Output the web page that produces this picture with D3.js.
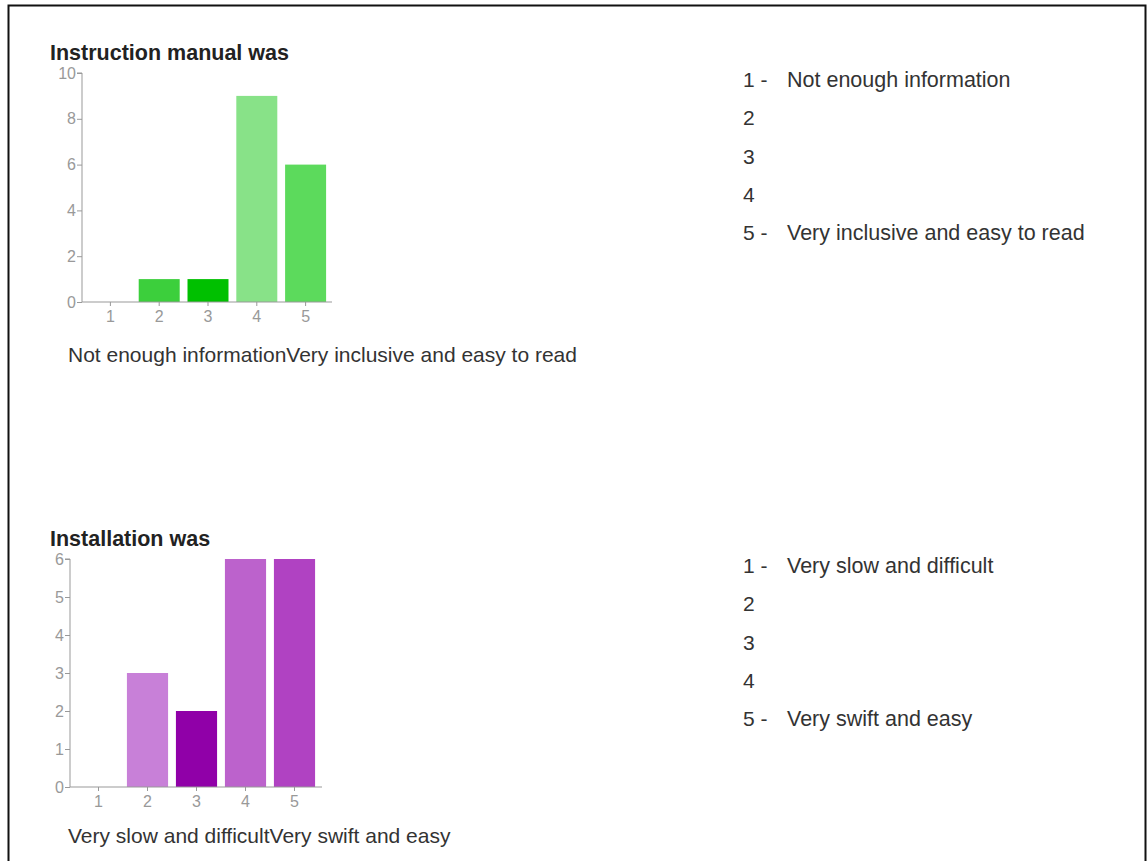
<!DOCTYPE html>
<html>
<head>
<meta charset="utf-8">
<script src="https://d3js.org/d3.v7.min.js"></script>
<style>
body { margin: 0; background: #fff; }
svg { font-family: Arial, "Liberation Sans", sans-serif; }
.axis path, .axis line { stroke: #999; }
</style>
</head>
<body>
<svg id="vis" width="1147" height="861"></svg>
<script>
// chart 1 data
var cats = ["1", "2", "3", "4", "5"]
var manualValues = [0, 1, 1, 9, 6]
var manualColors = ["#3ccf3c", "#3ccf3c", "#00c000", "#88e288", "#5cda5c"]
var manualTicks = [0, 2, 4, 6, 8, 10]
var manualLegend = ["Not enough information", "", "", "", "Very inclusive and easy to read"]
// chart 2 data
var installValues = [0, 3, 2, 6, 6]
var installColors = ["#c880d8", "#c880d8", "#9000a8", "#bc62cc", "#b042c2"]
var installTicks = [0, 1, 2, 3, 4, 5, 6]
var installLegend = ["Very slow and difficult", "", "", "", "Very swift and easy"]

var svg = d3.select("#vis")

// frame
svg.append("path")
    .attr("d", "M8.5,861 L8.5,5.5 L1145.5,5.5 L1145.5,861")
    .style("fill", "none")
    .style("stroke", "#111")
    .style("stroke-width", 2)

function drawChart(opt) {
    var g = svg.append("g")
    g.append("text")
        .attr("x", 50).attr("y", opt.titleY)
        .style("font-weight", "bold").style("font-size", "21.5px").style("fill", "#222")
        .text(opt.title)

    var x = d3.scaleBand().domain(cats).range([opt.x0, opt.x1]).paddingInner(0.16).paddingOuter(0.08)
    var y = d3.scaleLinear().domain([0, opt.max]).range([opt.y0, opt.y1])

    g.selectAll("rect").data(opt.values).enter().append("rect")
        .attr("x", (d, i) => x(cats[i]))
        .attr("y", d => y(d))
        .attr("width", x.bandwidth())
        .attr("height", d => y(0) - y(d))
        .style("fill", (d, i) => opt.colors[i])

    var ya = g.append("g").attr("class", "axis")
        .attr("transform", "translate(" + opt.axisX + ",0)")
        .call(d3.axisLeft(y).tickValues(opt.ticks).tickFormat(d3.format("d")).tickSize(5).tickPadding(1))
    ya.select(".domain").attr("d", "M-5," + y(opt.max) + "H0V" + y(0))

    var xa = g.append("g").attr("class", "axis")
        .attr("transform", "translate(0," + y(0) + ")")
        .call(d3.axisBottom(x).tickSize(4).tickPadding(5))
    xa.select(".domain").attr("d", "M" + opt.axisX + ",0H" + opt.axisEnd)

    g.selectAll(".axis text").style("font-size", "16px").style("fill", "#999")

    g.append("text")
        .attr("x", 68).attr("y", opt.footY)
        .style("font-size", "21px").style("fill", "#333")
        .text(opt.foot)

    // legend
    var leg = g.selectAll(".leg").data(opt.legend).enter().append("g")
        .attr("transform", (d, i) => "translate(743," + (opt.legY + i * 38.3) + ")")
    leg.append("text")
        .style("font-size", "21px").style("fill", "#333")
        .text((d, i) => d ? cats[i] + " -" : cats[i])
    leg.append("text")
        .attr("x", 44)
        .style("font-size", "21.5px").style("fill", "#333")
        .text(d => d)
}

drawChart({
    title: "Instruction manual was", titleY: 60,
    values: manualValues, colors: manualColors, ticks: manualTicks, max: 10,
    x0: 86, x1: 330, y0: 302, y1: 73, axisX: 82, axisEnd: 332,
    foot: "Not enough informationVery inclusive and easy to read", footY: 362,
    legend: manualLegend, legY: 87
})

drawChart({
    title: "Installation was", titleY: 546,
    values: installValues, colors: installColors, ticks: installTicks, max: 6,
    x0: 74, x1: 319, y0: 787, y1: 559, axisX: 70, axisEnd: 322,
    foot: "Very slow and difficultVery swift and easy", footY: 843,
    legend: installLegend, legY: 573
})
</script>
</body>
</html>
